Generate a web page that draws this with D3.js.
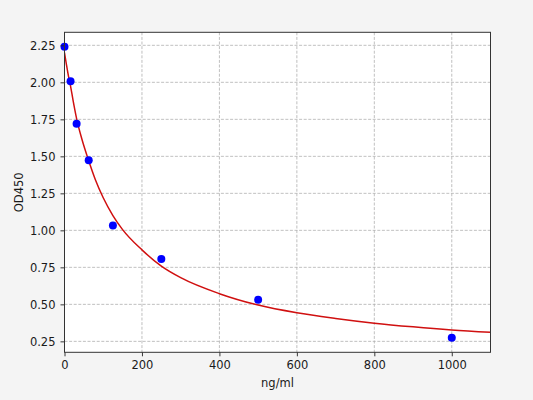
<!DOCTYPE html>
<html><head><meta charset="utf-8">
<script src="https://cdn.jsdelivr.net/npm/d3@7"></script>
<style>
html,body{margin:0;padding:0;background:#f4f4f4;}
svg{display:block;}
text{font-family:"DejaVu Sans",sans-serif;fill:#1a1a1a;}
</style></head><body>
<svg id="c" width="533" height="400"></svg>
<script>
// Measured standards
const stdConc = [0, 15.625, 31.25, 62.5, 125, 250, 500, 1000];
const stdOD   = [2.24, 2.007, 1.72, 1.473, 1.032, 0.806, 0.531, 0.274];
// Fitted curve
const fitConc = [0, 5, 10, 15.6, 22, 31.25, 45, 62.5, 80, 100, 125, 150, 200, 250, 300, 400, 500, 600, 700, 800, 900, 1000, 1100];
const fitOD   = [2.20, 2.12, 2.045, 1.975, 1.88, 1.755, 1.615, 1.47, 1.34, 1.22, 1.10, 1.005, 0.868, 0.758, 0.68, 0.572, 0.495, 0.443, 0.405, 0.373, 0.348, 0.327, 0.311];
const xTicks = [0, 200, 400, 600, 800, 1000];
const yTicks = [0.25, 0.50, 0.75, 1.00, 1.25, 1.50, 1.75, 2.00, 2.25];
const xLabel = "ng/ml", yLabel = "OD450";

const svg = d3.select("#c");
const L = 64.5, R = 490.5, T = 32.3, B = 352.3;
const x = d3.scaleLinear().domain([0, 1100]).range([L, R]);
const y = d3.scaleLinear().domain([0.176, 2.338]).range([B, T]);

svg.append("rect").attr("x", L).attr("y", T).attr("width", R - L).attr("height", B - T).attr("fill", "#fff");

const grid = svg.append("g").attr("stroke", "#b0b0b0").attr("stroke-width", 0.8).attr("stroke-dasharray", "3,1.6");
grid.selectAll("line.gx").data(xTicks).join("line")
  .attr("x1", d => x(d)).attr("x2", d => x(d)).attr("y1", T).attr("y2", B);
grid.selectAll("line.gy").data(yTicks).join("line")
  .attr("y1", d => y(d)).attr("y2", d => y(d)).attr("x1", L).attr("x2", R);

svg.append("clipPath").attr("id", "pc").append("rect")
  .attr("x", L).attr("y", T).attr("width", R - L).attr("height", B - T);

const line = d3.line().x(d => x(d[0])).y(d => y(d[1])).curve(d3.curveMonotoneX);
svg.append("path").datum(fitConc.map((c, i) => [c, fitOD[i]]))
  .attr("d", line).attr("fill", "none").attr("stroke", "#d01010").attr("stroke-width", 1.5)
  .attr("clip-path", "url(#pc)");

svg.append("g").selectAll("circle").data(stdConc.map((c, i) => [c, stdOD[i]])).join("circle")
  .attr("cx", d => x(d[0])).attr("cy", d => y(d[1])).attr("r", 4).attr("fill", "#0000ff");

// Axes
const xa = svg.append("g").attr("transform", `translate(0,${B})`)
  .call(d3.axisBottom(x).tickValues(xTicks).tickFormat(d3.format("d")).tickSize(4).tickPadding(5));
const ya = svg.append("g").attr("transform", `translate(${L},0)`)
  .call(d3.axisLeft(y).tickValues(yTicks).tickFormat(d3.format(".2f")).tickSize(4).tickPadding(5));
[xa, ya].forEach(a => {
  a.select(".domain").remove();
  a.selectAll("line").attr("stroke", "#222").attr("stroke-width", 0.9);
  a.selectAll("text").attr("font-size", 11.5).attr("font-family", "DejaVu Sans").attr("fill", "#1a1a1a");
});

svg.append("rect").attr("x", L).attr("y", T).attr("width", R - L).attr("height", B - T)
  .attr("fill", "none").attr("stroke", "#333").attr("stroke-width", 1);

svg.append("text").attr("x", (L + R) / 2).attr("y", 387).attr("text-anchor", "middle")
  .attr("font-size", 11.5).text(xLabel);
svg.append("text").attr("transform", `translate(23,${(T + B) / 2}) rotate(-90)`)
  .attr("text-anchor", "middle").attr("font-size", 11.5).text(yLabel);
</script>
</body></html>
